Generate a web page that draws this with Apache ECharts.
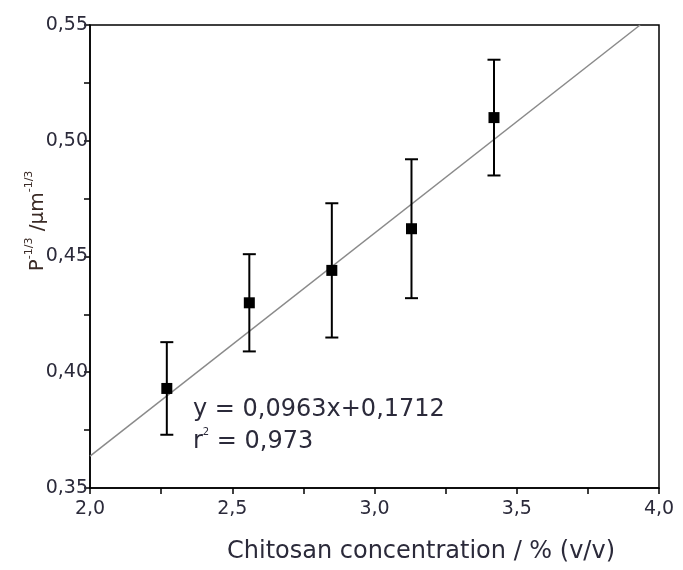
<!DOCTYPE html>
<html><head><meta charset="utf-8">
<script src="https://cdn.jsdelivr.net/npm/echarts@6/dist/echarts.min.js"></script>
<style>html,body{margin:0;padding:0;background:#fff}#c{width:683px;height:570px}</style>
</head><body><div id="c"></div>
<script>
// Data
const concentration = [2.27, 2.56, 2.85, 3.13, 3.42];
const pValue        = [0.393, 0.430, 0.444, 0.462, 0.510];
const pError        = [0.020, 0.021, 0.029, 0.030, 0.025];
const fitSlope = 0.0963;
const fitIntercept = 0.1712;
const fitText = 'y = 0,0963x+0,1712';
const r2Value = '0,973';
const xRange = [2.0, 4.0];
const yRange = [0.35, 0.55];

const txt = '#2b2a3a';
const font = 'DejaVu Sans';

const points = concentration.map((x, i) => [x, pValue[i]]);
const bars = concentration.map((x, i) => [x, pValue[i] - pError[i], pValue[i] + pError[i]]);
const fitEndX = Math.min(xRange[1], (yRange[1] - fitIntercept) / fitSlope);
const fitLine = [[xRange[0], fitSlope * xRange[0] + fitIntercept], [fitEndX, fitSlope * fitEndX + fitIntercept]];

const chart = echarts.init(document.getElementById('c'), null, {renderer: 'canvas'});
chart.setOption({
  animation: false,
  backgroundColor: '#fff',
  grid: {left: 90, right: 24, top: 25, bottom: 82, show: true, borderColor: '#000', borderWidth: 1.5, backgroundColor: 'transparent'},
  xAxis: {
    type: 'value', min: xRange[0], max: xRange[1], interval: 0.5,
    axisLine: {show: true, lineStyle: {color: '#000', width: 1.5}},
    axisTick: {show: true, inside: false, length: 6, lineStyle: {color: '#000', width: 1.5}},
    minorTick: {show: true, splitNumber: 2, length: 6, lineStyle: {color: '#000', width: 1.5}},
    splitLine: {show: false},
    axisLabel: {color: txt, fontFamily: font, fontSize: 19, margin: 12, formatter: v => v.toFixed(1).replace('.', ',')}
  },
  yAxis: {
    type: 'value', min: yRange[0], max: yRange[1], interval: 0.05,
    axisLine: {show: true, lineStyle: {color: '#000', width: 1.5}},
    axisTick: {show: true, inside: false, length: 6, lineStyle: {color: '#000', width: 1.5}},
    minorTick: {show: true, splitNumber: 2, length: 6, lineStyle: {color: '#000', width: 1.5}},
    splitLine: {show: false},
    axisLabel: {color: txt, fontFamily: font, fontSize: 19, margin: 2, formatter: v => v.toFixed(2).replace('.', ',')}
  },
  series: [
    {
      type: 'line', data: fitLine, symbol: 'none', clip: true,
      lineStyle: {color: '#8a8a8a', width: 1.5}, z: 1
    },
    {
      type: 'custom', data: bars, z: 2,
      renderItem: (params, api) => {
        const x = api.value(0), lo = api.value(1), hi = api.value(2);
        const pt = api.coord([x, hi]), pb = api.coord([x, lo]);
        const w = 6.5;
        const st = {stroke: '#000', lineWidth: 2};
        return {type: 'group', children: [
          {type: 'line', shape: {x1: pt[0], y1: pt[1], x2: pb[0], y2: pb[1]}, style: st},
          {type: 'line', shape: {x1: pt[0] - w, y1: pt[1], x2: pt[0] + w, y2: pt[1]}, style: st},
          {type: 'line', shape: {x1: pb[0] - w, y1: pb[1], x2: pb[0] + w, y2: pb[1]}, style: st}
        ]};
      }
    },
    {
      type: 'scatter', data: points, symbol: 'rect', symbolSize: 11, z: 3,
      itemStyle: {color: '#000', opacity: 1}
    }
  ],
  graphic: [
    {
      type: 'text', left: 193, top: 393,
      style: {text: fitText + '\n{r|r}{s|2}{r| = ' + r2Value + '}', font: '24px "DejaVu Sans"', fill: txt, lineHeight: 34,
        rich: {r: {fontSize: 24, fontFamily: font, fill: txt, lineHeight: 30}, s: {fontSize: 10, fontFamily: font, fill: txt, verticalAlign: 'top', lineHeight: 26}}}
    },
    {
      type: 'text', x: 38, y: 221, rotation: Math.PI / 2,
      style: {
        text: '{b|P}{s|-1/3}{b| /µm}{s|-1/3}',
        align: 'center', verticalAlign: 'middle',
        rich: {
          b: {fontSize: 20, fontFamily: font, fill: '#3a2a25', lineHeight: 28},
          s: {fontSize: 11, fontFamily: font, fill: '#3a2a25', verticalAlign: 'top', lineHeight: 28}
        }
      }
    },
    {
      type: 'text', x: 421, y: 552,
      style: {text: 'Chitosan concentration / % (v/v)', font: '24px "DejaVu Sans"', fill: txt, align: 'center', verticalAlign: 'middle'}
    }
  ]
});
</script></body></html>
